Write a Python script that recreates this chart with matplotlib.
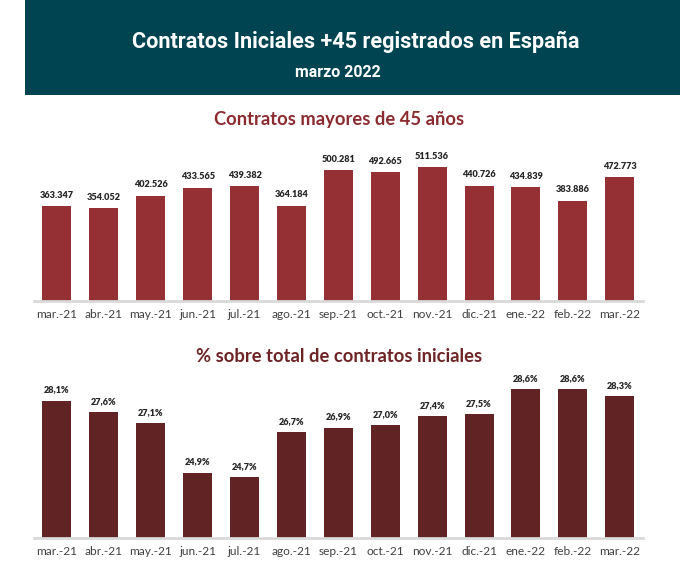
import matplotlib
matplotlib.use("Agg")
import matplotlib.pyplot as plt
from matplotlib.patches import Rectangle

months = ["mar.-21", "abr.-21", "may.-21", "jun.-21", "jul.-21", "ago.-21", "sep.-21",
          "oct.-21", "nov.-21", "dic.-21", "ene.-22", "feb.-22", "mar.-22"]
contratos = [363347, 354052, 402526, 433565, 439382, 364184, 500281,
             492665, 511536, 440726, 434839, 383886, 472773]
porcentaje = [28.1, 27.6, 27.1, 24.9, 24.7, 26.7, 26.9,
              27.0, 27.4, 27.5, 28.6, 28.6, 28.3]

title = "Contratos Iniciales +45 registrados en España"
subtitle = "marzo 2022"
title1 = "Contratos mayores de 45 años"
title2 = "% sobre total de contratos iniciales"

W, H = 696, 564
fig = plt.figure(figsize=(W / 100, H / 100), dpi=100)
fig.patch.set_facecolor("white")

def fx(px):
    return px / W

def fy(py):
    return 1 - py / H

# Banner
fig.patches.append(Rectangle((fx(25), fy(95)), fx(680) - fx(25), fy(0) - fy(95),
                             transform=fig.transFigure, facecolor="#004452",
                             edgecolor="none", zorder=0))
fig.text(fx(356), fy(48.3), title, color="white", fontsize=15.6, fontweight="bold",
         family=["Roboto", "DejaVu Sans"], ha="center", va="baseline")
fig.text(fx(338), fy(76.7), subtitle, color="white", fontsize=11.5, fontweight="bold",
         family=["Roboto", "DejaVu Sans"], ha="center", va="baseline")

fig.text(fx(339), fy(120), title1, color="#8C2B2F", fontsize=13.2, fontweight="bold",
         family=["Lato", "DejaVu Sans"], ha="center", va="center")
fig.text(fx(339), fy(357), title2, color="#6E2324", fontsize=13.2, fontweight="bold",
         family=["Lato", "DejaVu Sans"], ha="center", va="center")

x = list(range(len(months)))
left = fx(33.5)
width = fx(643.2) - fx(33.5)

def style(ax):
    for s in ["top", "right", "left"]:
        ax.spines[s].set_visible(False)
    ax.spines["bottom"].set_color("#D9D9D9")
    ax.spines["bottom"].set_linewidth(2)
    ax.set_yticks([])
    ax.set_xticks(x)
    ax.set_xticklabels(months, fontsize=8.6, color="#404040", family=["Lato", "DejaVu Sans"])
    ax.tick_params(axis="x", length=0, pad=6)
    ax.set_xlim(-0.5, len(months) - 0.5)
    ax.patch.set_alpha(0)

# Chart 1
ax1 = fig.add_axes([left, fy(301), width, fy(144) - fy(301)])
ax1.bar(x, contratos, width=0.62, color="#953134", edgecolor="none")
ax1.set_ylim(0, 600000)
style(ax1)
for xi, v in zip(x, contratos):
    ax1.annotate(f"{v:,}".replace(",", "."), (xi, v), xytext=(0, 4.5), textcoords="offset points",
                 ha="center", va="bottom", fontsize=6.6, fontweight="heavy", color="#262626",
                 family=["Lato", "DejaVu Sans"])

# Chart 2
ax2 = fig.add_axes([left, fy(538), width, fy(357.8) - fy(538)])
ax2.bar(x, porcentaje, width=0.62, color="#622324", edgecolor="none")
ax2.set_ylim(22, 30)
style(ax2)
for xi, v in zip(x, porcentaje):
    ax2.annotate(f"{v:.1f}%".replace(".", ","), (xi, v), xytext=(0, 4.5), textcoords="offset points",
                 ha="center", va="bottom", fontsize=6.6, fontweight="heavy", color="#262626",
                 family=["Lato", "DejaVu Sans"])

fig.savefig("out.png", dpi=100)
